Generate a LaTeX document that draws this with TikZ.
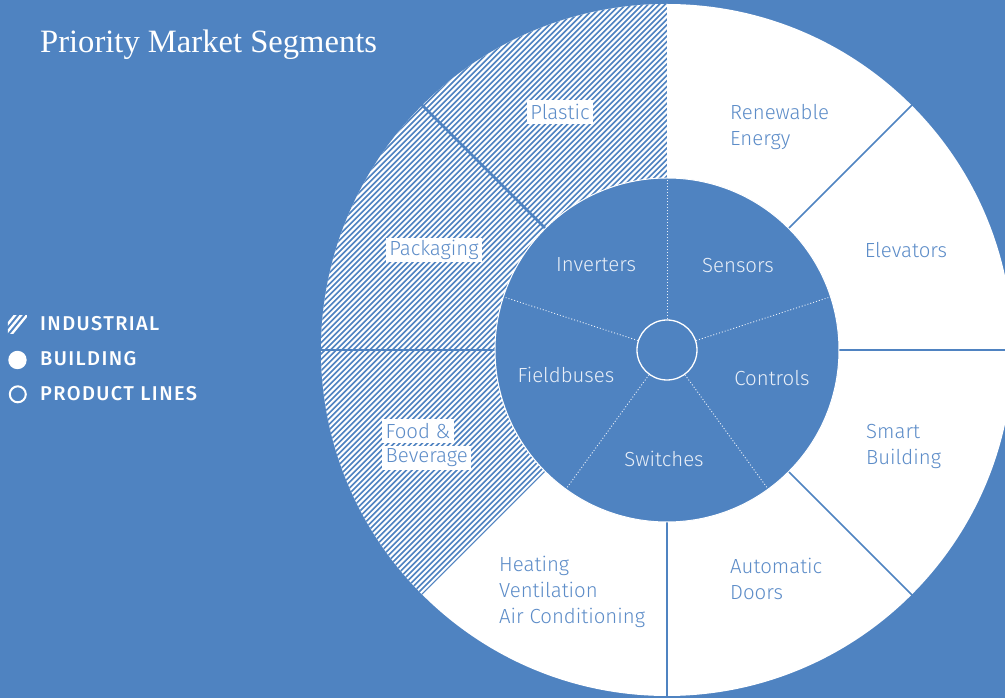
\documentclass[tikz,border=0pt]{standalone}
\usepackage{fontspec}
\setmainfont{Liberation Serif}
\newfontfamily\labelfont{Fira Sans}[UprightFont={* Light}]
\newfontfamily\legendfont{Fira Sans}[UprightFont={* Medium}, LetterSpace=7]
\usepackage{tikz}
\usetikzlibrary{shapes, arrows, positioning, calc}

\definecolor{segblue}{HTML}{4F83C1}
\definecolor{textblue}{HTML}{5C8CC8}
\definecolor{palewhite}{HTML}{E9EFF8}

\tikzset{
	seglabel/.style={font=\labelfont\fontsize{20.4}{26}\selectfont, text=textblue, align=left, inner sep=0pt},
	innerlabel/.style={font=\labelfont\fontsize{20.4}{26}\selectfont, text=palewhite, inner sep=0pt},
	tagbox/.style={font=\labelfont\fontsize{20.4}{26}\selectfont, text=textblue, fill=white, inner xsep=3.5pt, inner ysep=0pt, minimum height=24pt},
	legendtext/.style={font=\legendfont\fontsize{20}{24}\selectfont, text=white, anchor=base west, inner sep=0pt},
	hatchline/.style={white, line width=2pt},
	bluedivider/.style={segblue, line width=1.5pt},
	spoke/.style={palewhite, line width=0.9pt, dash pattern=on 1pt off 2pt}
}

\begin{document}
\begin{tikzpicture}[x=1pt,y=1pt]
	%background
	\useasboundingbox (-667,-348) rectangle (338,350);
	\fill[segblue] (-667,-348) rectangle (338,350);

	%ring
	\fill[white] (0,0) circle (346pt);
	\fill[segblue] (90:172pt) arc (90:225:172pt) -- (225:346pt) arc (225:90:346pt) -- cycle;
	\begin{scope}
		\clip (90:172pt) arc (90:225:172pt) -- (225:346pt) arc (225:90:346pt) -- cycle;
		\foreach \c in {-260,-254.4,...,720}
			\draw[hatchline] (-420,-420+\c) -- (420,420+\c);
	\end{scope}

	%dividers
	\foreach \a in {135,180}
		\draw[bluedivider, line width=2.6pt] (\a:170pt) -- (\a:348pt);
	\foreach \a in {45,0,-45,-90}
		\draw[bluedivider] (\a:170pt) -- (\a:350pt);

	%inner disk
	\draw[white, fill=segblue, line width=1pt] (0,0) circle (172pt);
	\node[circle, draw=white, line width=1.3pt, minimum size=60pt, inner sep=0pt] (hub) at (0,0) {};
	\foreach \a in {90,18,-54,-126,162}
		\draw[spoke] (hub.\a) -- (\a:171pt);

	%title
	\node[font=\fontsize{32.6}{36}\selectfont, text=white, anchor=base west, inner sep=0pt] (title) at (-627,297) {Priority Market Segments};

	%legend
	\begin{scope}
		\clip (-659,16) rectangle (-640,34);
		\foreach \d in {-6,0,6}
			\draw[white, line width=2.4pt] (-659+\d-4,14) -- (-641+\d-4,36);
	\end{scope}
	\node[circle, fill=white, minimum size=18.4pt, inner sep=0pt] (bulletfull) at (-649.5,-10) {};
	\node[circle, draw=white, line width=2pt, minimum size=16pt, inner sep=0pt] (bulletopen) at (-649.2,-44.3) {};
	\node[legendtext] (industrial) at (-627,19.3) {INDUSTRIAL};
	\node[legendtext] (building) at (-627,-15.7) {BUILDING};
	\node[legendtext] (productlines) at (-627,-50.7) {PRODUCT LINES};

	%hatched segments
	\node[tagbox] (plastic) at (-107,238) {Plastic};
	\node[tagbox] (packaging) at (-233,100) {Packaging};
	\node[tagbox, anchor=west] (food) at (-285,-81) {Food \&};
	\node[tagbox, anchor=west] (beverage) at (-285,-108) {Beverage};

	%white segments
	\node[seglabel, anchor=west] (renewable) at (63,223) {Renewable\\Energy};
	\node[seglabel] (elevators) at (239,100) {Elevators};
	\node[seglabel, anchor=west] (smart) at (199,-96) {Smart\\Building};
	\node[seglabel, anchor=west] (doors) at (63,-229) {Automatic\\Doors};
	\node[seglabel, anchor=west] (hvac) at (-168,-242) {Heating\\Ventilation\\Air Conditioning};

	%product lines
	\node[innerlabel] (inverters) at (-71,85) {Inverters};
	\node[innerlabel] (sensors) at (71,84) {Sensors};
	\node[innerlabel] (controls) at (105,-28) {Controls};
	\node[innerlabel] (switches) at (-3,-109) {Switches};
	\node[innerlabel] (fieldbuses) at (-101,-25) {Fieldbuses};
\end{tikzpicture}
\end{document}
